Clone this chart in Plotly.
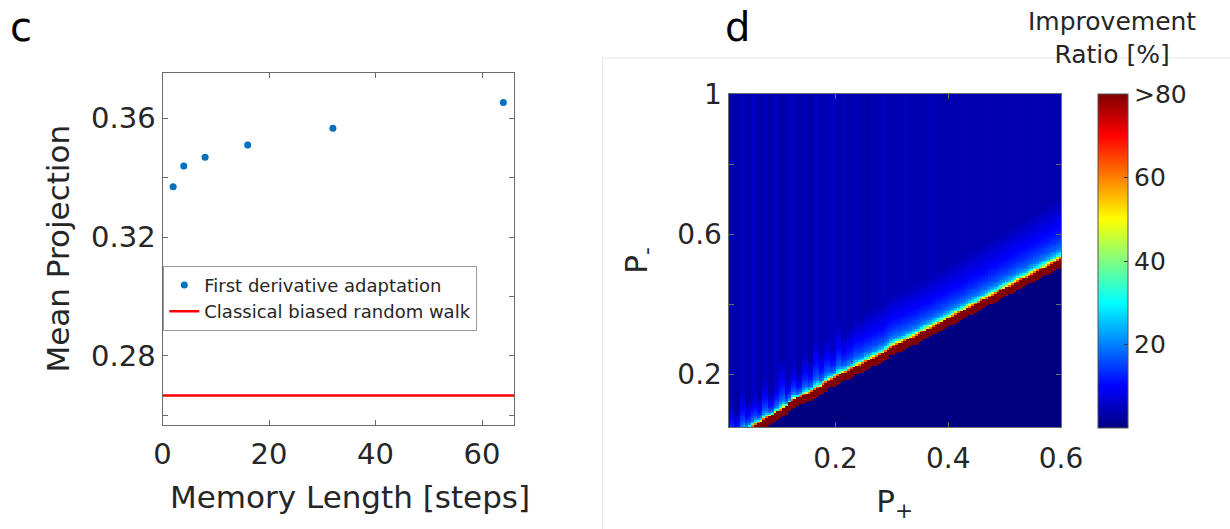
import plotly.graph_objects as go

W, H = 1230, 529
FONT = "DejaVu Sans"
TXT = "#262626"
AX = "#6b6b6b"

# ---------------- panel c data ----------------
memory_length = [2, 4, 8, 16, 32, 64]
mean_projection = [0.3369, 0.3439, 0.3468, 0.3509, 0.3566, 0.3652]
classical_projection = 0.2667
memory_axis_range = [0, 66]
projection_axis_range = [0.2568, 0.3753]
memory_ticks = [0, 20, 40, 60]
projection_tickvals = [0.28, 0.32, 0.36]
projection_ticktext = ["0.28", "0.32", "0.36"]
projection_minor_step = 0.02

# ---------------- panel d data ----------------
p_plus = [round(0.0125 + 0.005 * i, 4) for i in range(118)]
p_minus = [round(0.0525 + 0.005 * j, 4) for j in range(190)]
p_plus_range = [0.01, 0.6]
p_minus_range = [0.05, 1.0]
p_plus_tickvals = [0.2, 0.4, 0.6]
p_plus_ticktext = ["0.2", "0.4", "0.6"]
p_minus_tickvals = [0.2, 0.6, 1.0]
p_minus_ticktext = ["0.2", "0.6", "1"]
p_minor_step = 0.2

# upper edge of the >80 % band, one value per p_plus column
band_top = [0.010, 0.014, 0.020, 0.025, 0.030, 0.035, 0.040, 0.046, 0.051, 0.057,
            0.062, 0.066, 0.071, 0.075, 0.080, 0.084, 0.089, 0.093, 0.097, 0.103,
            0.108, 0.118, 0.126, 0.129, 0.133, 0.137, 0.140, 0.144, 0.147, 0.151,
            0.155, 0.160, 0.164, 0.171, 0.176, 0.182, 0.187, 0.191, 0.195, 0.199,
            0.203, 0.207, 0.211, 0.215, 0.219, 0.223, 0.227, 0.231, 0.235, 0.239,
            0.243, 0.247, 0.251, 0.256, 0.259, 0.266, 0.270, 0.277, 0.281, 0.286,
            0.288, 0.291, 0.295, 0.299, 0.303, 0.307, 0.311, 0.315, 0.320, 0.324,
            0.328, 0.332, 0.337, 0.341, 0.345, 0.349, 0.354, 0.358, 0.362, 0.366,
            0.371, 0.375, 0.379, 0.383, 0.388, 0.392, 0.396, 0.400, 0.405, 0.409,
            0.413, 0.417, 0.422, 0.426, 0.430, 0.434, 0.439, 0.443, 0.448, 0.452,
            0.456, 0.460, 0.465, 0.469, 0.473, 0.477, 0.482, 0.486, 0.490, 0.494,
            0.499, 0.503, 0.507, 0.511, 0.516, 0.520, 0.525, 0.529]
band_depth = 0.024
# relative reach of the bright zone above the band, per 0.01 of p_plus
glow_scale = [0.5, 0.3, 0.6, 0.35, 0.45, 0.3, 0.55, 0.3, 0.45, 0.65,
              0.35, 0.5, 0.3, 0.55, 0.4, 0.7, 0.45, 0.6, 0.45, 0.7,
              0.5, 0.55, 0.65, 0.6, 0.65, 0.65, 0.65, 0.65, 0.7, 0.7,
              0.7, 0.7, 0.7, 0.7, 0.7, 0.7, 0.7, 0.7, 0.7, 0.7,
              0.7, 0.7, 0.72, 0.72, 0.72, 0.72, 0.74, 0.74, 0.74, 0.74,
              0.76, 0.76, 0.76, 0.76, 0.78, 0.78, 0.78, 0.8, 0.8]
# ratio far above the band, per 0.01 of p_plus
background_ratio = [4.4, 3.0, 4.8, 3.4, 5.2, 3.2, 4.6, 3.6, 5.0, 3.0,
                    4.2, 5.2, 3.4, 4.6, 3.2, 4.8, 3.8, 4.4, 5.0, 3.6,
                    4.2, 3.6, 4.6, 3.9, 3.2, 4.2, 3.9, 4.4, 3.6, 4.0,
                    4.0, 4.4, 4.0, 3.6, 4.0, 4.4, 4.4, 4.0, 3.6, 4.0,
                    4.0, 3.8, 3.8, 4.0, 4.0, 3.8, 3.8, 3.8, 4.0, 3.8,
                    3.8, 3.8, 3.6, 3.6, 3.8, 3.8, 3.6, 3.6, 3.8]
# ratio in successive 0.005 steps above the band
glow_profile = [62, 48, 37, 30, 25.5, 22.5, 20.5, 19, 18, 17, 16.2, 15.5, 14.8,
                14.2, 13.6, 13.1, 12.6, 12.1, 11.7, 11.3, 10.9, 10.5, 10.1, 9.8,
                9.5, 9.2, 8.9, 8.6, 8.3, 8.0, 7.7, 7.4, 7.1, 6.8, 6.5, 6.2, 5.9,
                5.6, 5.3, 5.0, 4.7, 4.4, 4.1, 3.8]
below_ratio = 0.0
band_ratio = 90.0
row_step = 0.005

z = []
for y in p_minus:
    row = []
    for c in range(len(p_plus)):
        top = band_top[c]
        coarse = c // 2
        if y < top - band_depth:
            v = below_ratio
        elif y <= top:
            v = band_ratio
        else:
            k = int((y - top) / row_step / glow_scale[coarse])
            bg = background_ratio[coarse]
            v = glow_profile[k] if k < len(glow_profile) else bg
            v = max(v, bg)
        row.append(v)
    z.append(row)

jet = [[0.0, "rgb(0,0,128)"], [0.125, "rgb(0,0,255)"], [0.375, "rgb(0,255,255)"],
       [0.625, "rgb(255,255,0)"], [0.875, "rgb(255,0,0)"], [1.0, "rgb(128,0,0)"]]
ratio_tickvals = [20, 40, 60, 80]
ratio_ticktext = ["20", "40", "60", ">80"]


def px_x(v):
    return v / W


def px_y(v):
    return 1 - v / H


fig = go.Figure()

fig.add_trace(go.Scatter(
    x=memory_length, y=mean_projection, mode="markers",
    marker=dict(color="#0072BD", size=7),
    name="First derivative adaptation", xaxis="x", yaxis="y"))
fig.add_trace(go.Scatter(
    x=memory_axis_range, y=[classical_projection] * 2, mode="lines",
    line=dict(color="#FF0000", width=2.6),
    name="Classical biased random walk", xaxis="x", yaxis="y"))

fig.add_trace(go.Heatmap(
    x=p_plus, y=p_minus, z=z, colorscale=jet, zmin=0, zmax=80,
    xaxis="x2", yaxis="y2", zsmooth=False, showlegend=False,
    colorbar=dict(
        x=px_x(1098), xanchor="left", xpad=0, ypad=0,
        y=px_y(428), yanchor="bottom", len=(428 - 94) / H, lenmode="fraction",
        thickness=30, outlinewidth=1, outlinecolor="#555555",
        tickvals=ratio_tickvals, ticktext=ratio_ticktext,
        ticks="inside", ticklen=4, tickcolor="#333333",
        tickfont=dict(family=FONT, size=25, color=TXT))))

axis_common = dict(showgrid=False, zeroline=False, showline=True, linecolor=AX,
                   linewidth=1, mirror="ticks", ticks="inside", ticklen=5,
                   tickcolor=AX, automargin=False)

fig.update_layout(
    width=W, height=H, margin=dict(l=0, r=0, t=0, b=0),
    paper_bgcolor="white", plot_bgcolor="white",
    xaxis=dict(domain=[px_x(162.5), px_x(514)], range=memory_axis_range,
               tickvals=memory_ticks, anchor="y", ticklabelstandoff=3,
               tickfont=dict(family=FONT, size=29, color=TXT), **axis_common),
    yaxis=dict(domain=[px_y(425), px_y(72.5)], range=projection_axis_range,
               tickvals=projection_tickvals, ticktext=projection_ticktext,
               anchor="x", tickfont=dict(family=FONT, size=29, color=TXT),
               minor=dict(dtick=projection_minor_step, tick0=0.26, ticks="inside",
                          ticklen=5, tickcolor=AX, showgrid=False),
               title=dict(text="Mean Projection", standoff=12,
                          font=dict(family=FONT, size=31, color=TXT)),
               **axis_common),
    xaxis2=dict(domain=[px_x(728.5), px_x(1061)], range=p_plus_range,
                tickvals=p_plus_tickvals, ticktext=p_plus_ticktext, anchor="y2",
                ticklabelstandoff=6,
                tickfont=dict(family=FONT, size=28, color=TXT),
                title=dict(text="P<sub>+</sub>", standoff=16,
                           font=dict(family=FONT, size=31, color=TXT)),
                **axis_common),
    yaxis2=dict(domain=[px_y(427), px_y(94)], range=p_minus_range,
                tickvals=p_minus_tickvals, ticktext=p_minus_ticktext, anchor="x2",
                tickfont=dict(family=FONT, size=28, color=TXT),
                minor=dict(dtick=p_minor_step, tick0=0.2, ticks="inside",
                           ticklen=5, tickcolor=AX, showgrid=False),
                title=dict(text="P<sub>-</sub>", standoff=20,
                           font=dict(family=FONT, size=31, color=TXT)),
                **axis_common),
    legend=dict(x=px_x(163.3), y=px_y(265.7), xanchor="left", yanchor="top",
                bgcolor="white", bordercolor="#9a9a9a", borderwidth=1,
                font=dict(family=FONT, size=18, color=TXT),
                itemwidth=30, tracegroupgap=0),
    showlegend=True,
)

fig.add_shape(type="path", xref="paper", yref="paper",
              path=f"M {px_x(602.5)},0 L {px_x(602.5)},{px_y(58)} L 1,{px_y(58)}",
              line=dict(color="#e8e8e8", width=1))

ann_font = dict(family=FONT, color=TXT)
fig.add_annotation(text="Memory Length [steps]", x=px_x(349.7), y=px_y(496.7),
                   xref="paper", yref="paper", xanchor="center", yanchor="middle",
                   showarrow=False, font=dict(size=31, **ann_font))
fig.add_annotation(text="c", x=px_x(8), y=px_y(27), xref="paper", yref="paper",
                   xanchor="left", yanchor="middle", showarrow=False,
                   font=dict(size=40, family=FONT, color="black"))
fig.add_annotation(text="d", x=px_x(723), y=px_y(27), xref="paper", yref="paper",
                   xanchor="left", yanchor="middle", showarrow=False,
                   font=dict(size=40, family=FONT, color="black"))
fig.add_annotation(text="Improvement<br>Ratio [%]", x=px_x(1112), y=px_y(38),
                   xref="paper", yref="paper", xanchor="center", yanchor="middle",
                   showarrow=False, font=dict(size=25, **ann_font))

fig.write_html("out.html")
